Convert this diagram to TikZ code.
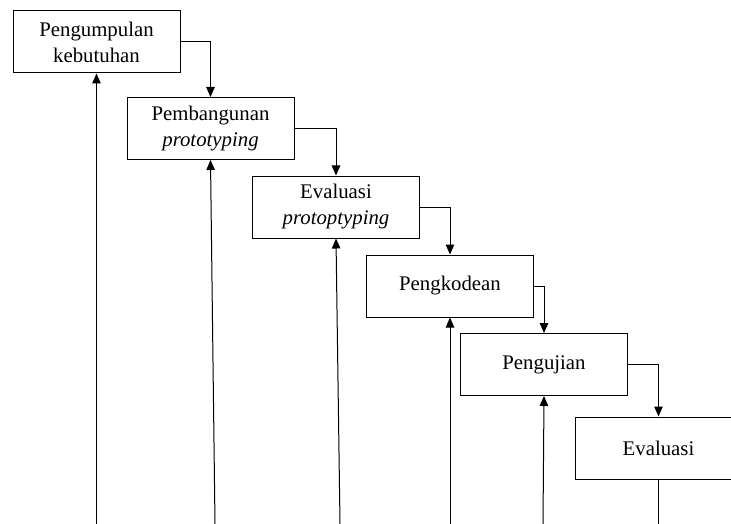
\documentclass[tikz,border=0pt]{standalone}
\usepackage{fontspec}
\setmainfont{Liberation Serif}
\usetikzlibrary{arrows.meta}
\begin{document}
\begin{tikzpicture}[x=1pt,y=-1pt,
  stagebox/.style={draw=black,line width=1pt,minimum width=167pt,minimum height=62pt,inner sep=0pt,align=center,font=\fontsize{20.8}{26}\selectfont},
  flow/.style={line width=1pt,-{Triangle[length=10pt,width=8.5pt]}},
  plain/.style={line width=1pt}]
\useasboundingbox (0,0) rectangle (731,524);
\clip (0,0) rectangle (731,524);
\node[stagebox] (b1) at (96.5,42) {Pengumpulan\\kebutuhan};
\node[stagebox] (b2) at (210.5,128.5) {Pembangunan\\\textit{prototyping}};
\node[stagebox] (b3) at (336,207) {Evaluasi\\\textit{protoptyping}};
\node[stagebox] (b4) at (450,286) {Pengkodean};
\node[stagebox] (b5) at (544,364.5) {Pengujian};
\node[stagebox] (b6) at (658.5,448) {Evaluasi};
\draw[flow] (b1.east) -| (b2.north);
\draw[flow] (b2.east) -| (b3.north);
\draw[flow] (b3.east) -| (b4.north);
\draw[flow] (b4.east) -| (b5.north);
\draw[flow] (b5.east) -| (b6.north);
\coordinate (f1) at (96.5,524);
\coordinate (f2) at (215,524);
\coordinate (f3) at (340,524);
\coordinate (f4) at (450,524);
\coordinate (f5) at (543,524);
\coordinate (f6) at (658.5,524);
\draw[flow] (f1) -- (b1.south);
\draw[flow] (f2) -- (b2.south);
\draw[flow] (f3) -- (b3.south);
\draw[flow] (f4) -- (b4.south);
\draw[flow] (f5) -- (b5.south);
\draw[plain] (b6.south) -- (f6);
\end{tikzpicture}
\end{document}
